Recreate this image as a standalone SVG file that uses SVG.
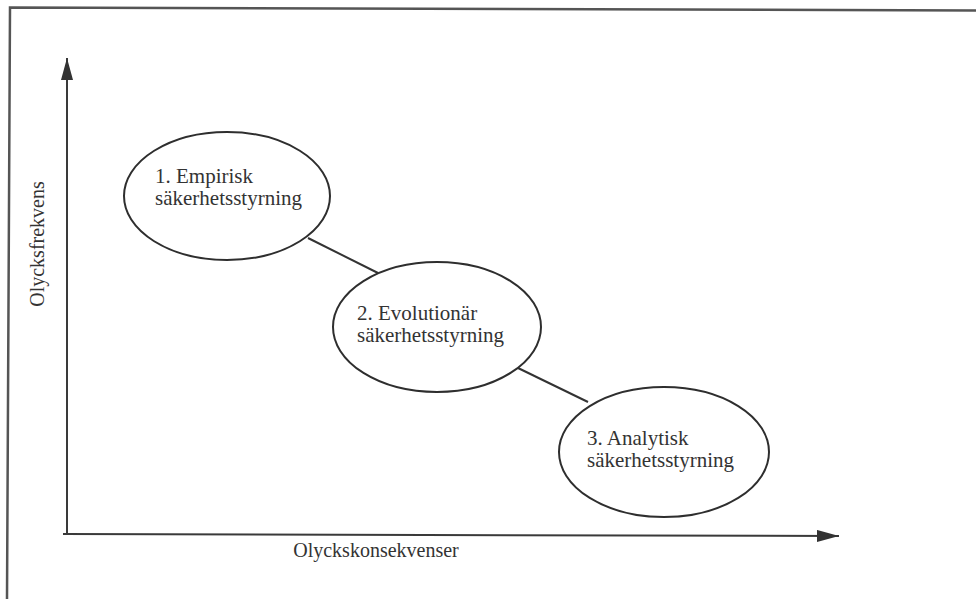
<svg xmlns="http://www.w3.org/2000/svg" width="976" height="599" viewBox="0 0 976 599">
  <defs>
    <style>
      .frame { fill: none; stroke: #555; stroke-width: 2.5; }
      .axis { fill: none; stroke: #3a3a3a; stroke-width: 2; }
      .node { fill: #fff; stroke: #2e2e2e; stroke-width: 2; }
      .edge { fill: none; stroke: #333; stroke-width: 2; }
      .label { font-family: "Liberation Serif", "Times New Roman", serif; font-size: 20px; fill: #333; }
      .node-label { font-size: 21px; }
    </style>
    <marker id="head" viewBox="0 0 22 12" refX="22" refY="6" markerWidth="22" markerHeight="12" markerUnits="userSpaceOnUse" orient="auto">
      <path d="M0,0 L22,6 L0,12 Z" fill="#333"/>
    </marker>
  </defs>
  <rect width="976" height="599" fill="#fff"/>

  <!-- outer frame (top and left edges) -->
  <path class="frame" d="M976,10.5 L10,7.5 L7,599"/>

  <!-- axes -->
  <g id="axes">
    <line class="axis" x1="67" y1="534" x2="67" y2="58" marker-end="url(#head)"/>
    <line class="axis" x1="63" y1="534" x2="839" y2="536" marker-end="url(#head)"/>
    <text class="label" x="376" y="557" text-anchor="middle">Olyckskonsekvenser</text>
    <text class="label" x="0" y="0" text-anchor="middle" transform="translate(44,244) rotate(-90)">Olycksfrekvens</text>
  </g>

  <!-- connectors between stages -->
  <g id="connectors">
    <line class="edge" x1="308" y1="238" x2="378" y2="273"/>
    <line class="edge" x1="518" y1="368" x2="588" y2="402"/>
  </g>

  <g id="node-1">
    <ellipse class="node" cx="227" cy="196" rx="103" ry="64"/>
    <text class="label node-label" x="155" y="183">1. Empirisk</text>
    <text class="label node-label" x="155" y="205">säkerhetsstyrning</text>
  </g>

  <g id="node-2">
    <ellipse class="node" cx="437" cy="327" rx="104" ry="65"/>
    <text class="label node-label" x="357" y="320">2. Evolutionär</text>
    <text class="label node-label" x="357" y="342">säkerhetsstyrning</text>
  </g>

  <g id="node-3">
    <ellipse class="node" cx="664" cy="452" rx="105" ry="65"/>
    <text class="label node-label" x="587" y="445">3. Analytisk</text>
    <text class="label node-label" x="587" y="467">säkerhetsstyrning</text>
  </g>
</svg>
